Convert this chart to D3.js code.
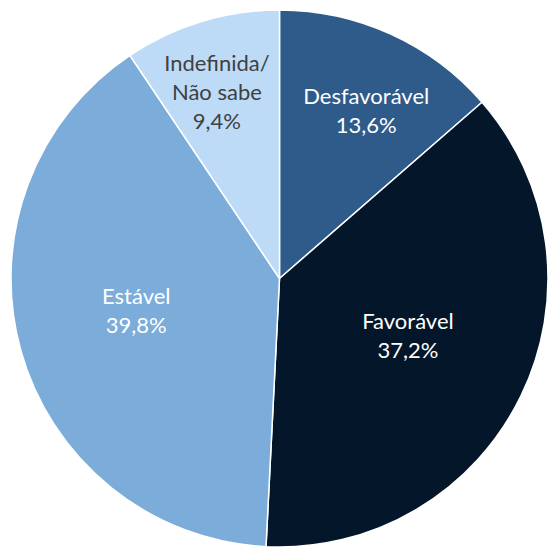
<!DOCTYPE html>
<html><head><meta charset="utf-8">
<script src="https://cdn.jsdelivr.net/npm/d3@7"></script>
<style>html,body{margin:0;padding:0;background:#fff;overflow:hidden}</style>
</head><body>
<svg id="chart" width="549" height="547"></svg>
<script>
const categories = ["Desfavorável", "Favorável", "Estável", "Indefinida/\nNão sabe"];
const values = [13.6, 37.2, 39.8, 9.4];
const valueLabels = ["13,6%", "37,2%", "39,8%", "9,4%"];
const colors = ["#2E5B8A", "#041629", "#7BACDA", "#BDDBF7"];
const textColors = ["#ffffff", "#ffffff", "#ffffff", "#404040"];

const svg = d3.select("#chart");
const cx = 279.5, cy = 278.5, R = 268.5;
const g = svg.append("g").attr("transform", `translate(${cx},${cy})`);

const data = categories.map((c, i) => ({cat: c, v: values[i], lab: valueLabels[i], i}));
const pie = d3.pie().value(d => d.v).sort(null);
const arc = d3.arc().innerRadius(0).outerRadius(R);
const arcs = pie(data);

g.selectAll("path.slice").data(arcs).enter().append("path")
  .attr("class", "slice")
  .attr("d", arc)
  .attr("fill", d => colors[d.data.i])
  .attr("stroke", "#ffffff")
  .attr("stroke-width", 1.5)
  .attr("stroke-linejoin", "round");

// label placement: radius and angle tweak per slice (Excel best-fit)
const labelR = [188, 141, 147, 196];
const angleAdj = [3, -1.6, 2.5, -1.7];
const lineH = 29;
const fontSize = 22;

arcs.forEach(a => {
  const i = a.data.i;
  const mid = (a.startAngle + a.endAngle) / 2 + angleAdj[i] * Math.PI / 180;
  const x = Math.sin(mid) * labelR[i];
  const y = -Math.cos(mid) * labelR[i];
  const lines = a.data.cat.split("\n").concat([a.data.lab]);
  const n = lines.length;
  const t = g.append("text")
    .attr("text-anchor", "middle")
    .attr("font-family", "Lato, 'Open Sans', sans-serif")
    .attr("font-size", fontSize)
    .attr("fill", textColors[i]);
  lines.forEach((ln, k) => {
    t.append("tspan")
      .attr("x", x)
      .attr("y", y + (k - (n - 1) / 2) * lineH + fontSize * 0.33)
      .text(ln);
  });
});
</script>
</body></html>
